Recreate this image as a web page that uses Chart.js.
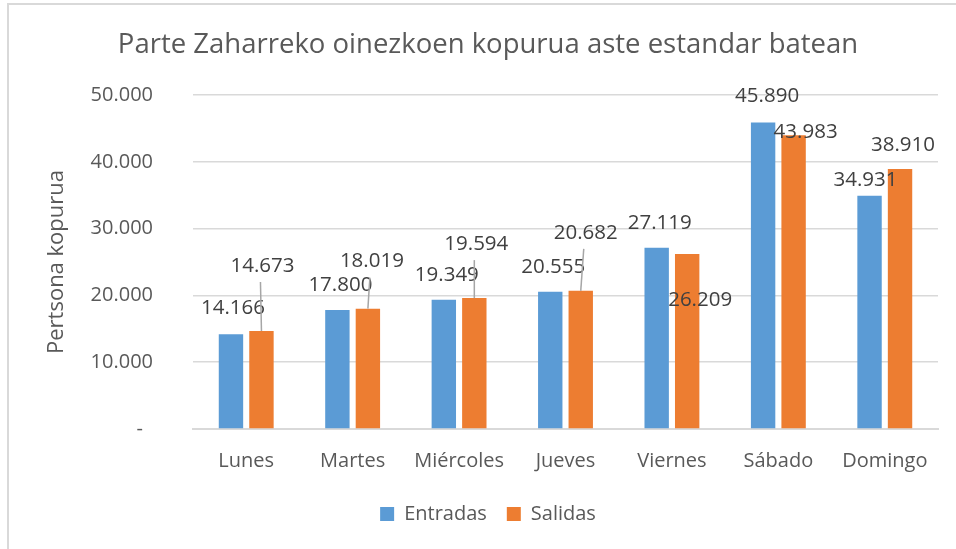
<!DOCTYPE html>
<html>
<head>
<meta charset="utf-8">
<script src="https://cdn.jsdelivr.net/npm/chart.js@4.4.1/dist/chart.umd.min.js"></script>
<style>
  html, body { margin: 0; padding: 0; background: #fff; }
  #wrap { width: 956px; height: 549px; position: relative; }
</style>
</head>
<body>
<div id="wrap"><canvas id="pedestrianChart"></canvas></div>
<script>
// Data
const days = ['Lunes', 'Martes', 'Miércoles', 'Jueves', 'Viernes', 'Sábado', 'Domingo'];
const entradas = [14166, 17800, 19349, 20555, 27119, 45890, 34931];
const salidas = [14673, 18019, 19594, 20682, 26209, 43983, 38910];
const yTickLabels = ['-', '10.000', '20.000', '30.000', '40.000', '50.000'];

// Label placement relative to bar top (Excel moved some of them by hand)
const labelDx = [[2, 3, 3, 3, 3, 4, -4], [1, 4, 2, 5, 13, 12, 3]];
const labelDy = [[-26, -25, -25, -25, -25, -26, -16], [-65, -47, -54, -58, 46, -3, -24]];
const leader = [[false, false, false, false, false, false, false], [true, true, true, true, false, false, false]];

function fmt(v) {
    return v.toString().replace(/\B(?=(\d{3})+(?!\d))/g, '.');
}

const frame = {
    id: 'frame',
    beforeDraw(chart) {
        const c = chart.ctx;
        c.save();
        c.fillStyle = '#fff';
        c.fillRect(0, 0, chart.width, chart.height);
        c.strokeStyle = '#d9d9d9';
        c.lineWidth = 2;
        c.beginPath();
        c.moveTo(8, chart.height);
        c.lineTo(8, 4);
        c.lineTo(chart.width, 4);
        c.stroke();
        c.restore();
    }
};

const valueLabels = {
    id: 'valueLabels',
    afterDatasetsDraw(chart) {
        const c = chart.ctx;
        c.save();
        chart.data.datasets.forEach((ds, i) => {
            chart.getDatasetMeta(i).data.forEach((bar, j) => {
                const x = bar.x + labelDx[i][j];
                const y = bar.y + labelDy[i][j];
                if (leader[i][j]) {
                    c.strokeStyle = '#a6a6a6';
                    c.lineWidth = 1.5;
                    c.beginPath();
                    c.moveTo(x - 2, y + 16);
                    c.lineTo(bar.x, bar.y);
                    c.stroke();
                }
                c.fillStyle = '#404040';
                c.font = '20.5px "Open Sans"';
                c.textAlign = 'center';
                c.textBaseline = 'middle';
                c.fillText(fmt(ds.data[j]), x, y);
            });
        });
        c.restore();
    }
};

new Chart(document.getElementById('pedestrianChart'), {
    type: 'bar',
    data: {
        labels: days,
        datasets: [
            { label: 'Entradas', data: entradas, backgroundColor: '#5B9BD5' },
            { label: 'Salidas', data: salidas, backgroundColor: '#ED7D31' }
        ]
    },
    options: {
        responsive: true,
        maintainAspectRatio: false,
        animation: false,
        devicePixelRatio: 1,
        categoryPercentage: 0.573,
        barPercentage: 0.8,
        layout: { padding: { left: 38, right: 18, top: 0, bottom: 15 } },
        plugins: {
            title: {
                display: true,
                text: 'Parte Zaharreko oinezkoen kopurua aste estandar batean',
                color: '#595959',
                font: { family: 'Open Sans', size: 27.5, weight: 'normal' },
                padding: { top: 29, bottom: 33 }
            },
            legend: {
                position: 'bottom',
                title: {
                    display: true,
                    text: '',
                    font: { size: 11, lineHeight: 1 },
                    padding: 0
                },
                labels: {
                    color: '#595959',
                    font: { family: 'Open Sans', size: 20 },
                    boxWidth: 14,
                    boxHeight: 14,
                    padding: 20
                }
            },
            tooltip: { enabled: false }
        },
        scales: {
            x: {
                grid: { display: false, tickLength: 20 },
                border: { color: '#d9d9d9', width: 2 },
                ticks: {
                    color: '#595959',
                    font: { family: 'Open Sans', size: 20 },
                    padding: 0,
                    maxRotation: 0
                }
            },
            y: {
                min: 0,
                max: 50000,
                afterFit(scale) { scale.width = 155; },
                grid: { color: '#d9d9d9', lineWidth: 1.5, drawTicks: false },
                border: { display: false },
                ticks: {
                    stepSize: 10000,
                    color: '#595959',
                    font: { family: 'Open Sans', size: 20 },
                    padding: 40,
                    callback: (v) => {
                        const t = yTickLabels[Math.round(v / 10000)];
                        return v === 0 ? t + '\u2002' : t;
                    }
                },
                title: {
                    display: true,
                    text: 'Pertsona kopurua',
                    color: '#595959',
                    font: { family: 'Open Sans', size: 22 },
                    padding: { top: 6, bottom: 0 }
                }
            }
        }
    },
    plugins: [frame, valueLabels]
});
</script>
</body>
</html>
